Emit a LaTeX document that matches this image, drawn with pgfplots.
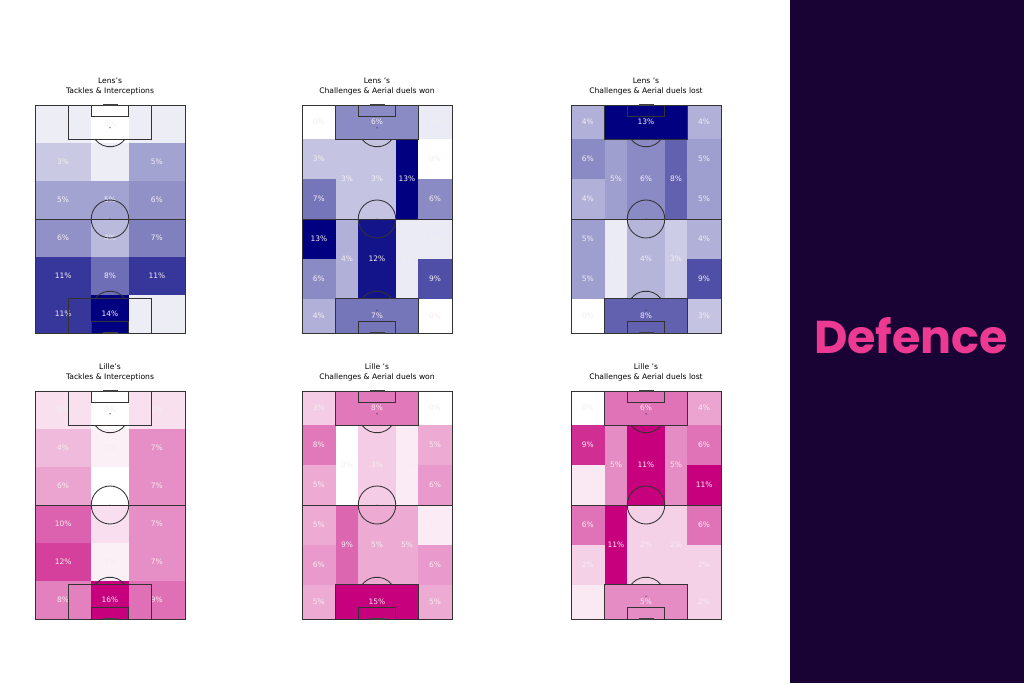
\documentclass[border=0pt]{standalone}
\usepackage{pgfplots}
\pgfplotsset{compat=1.18}
\usepackage{fontspec}
\setmainfont{DejaVu Sans}
\newfontfamily\poppins{Poppins}
\definecolor{lens}{RGB}{0,0,128}
\definecolor{lille}{RGB}{199,0,125}
\definecolor{labc}{RGB}{244,237,240}
\definecolor{darkbg}{RGB}{25,3,52}
\definecolor{defpink}{RGB}{236,58,146}
\newcommand{\cell}[7]{%
  \addplot[draw=none, fill=#1!#2!white, forget plot] coordinates {(#3,#4) (#5,#4) (#5,#6) (#3,#6)} -- cycle;
  \node[lbl] at (axis cs:{(#3+#5)/2},{(#4+#6)/2}) {#7\%};}
\newcommand{\pitch}{%
  \draw[pl] (axis cs:0,0) rectangle (axis cs:80,120);
  \draw[pl] (axis cs:0,60) -- (axis cs:80,60);
  \draw[pl] (axis cs:40,60) ellipse[x radius=18.75pt, y radius=19pt];
  \draw[pl] (axis cs:18,0) rectangle (axis cs:62,18);
  \draw[pl] (axis cs:30,0) rectangle (axis cs:50,6);
  \draw[pl] (axis cs:18,102) rectangle (axis cs:62,120);
  \draw[pl] (axis cs:30,114) rectangle (axis cs:50,120);
  \draw[pl] (axis cs:48,18) arc[start angle=36.87, end angle=143.13, x radius=18.75pt, y radius=19pt];
  \draw[pl] (axis cs:32,102) arc[start angle=216.87, end angle=323.13, x radius=18.75pt, y radius=19pt];
  \fill[black!80] (axis cs:40,12) circle[radius=0.7pt];
  \fill[black!80] (axis cs:40,108) circle[radius=0.7pt];
  \fill[black!80] (axis cs:40,60) circle[radius=0.5pt];
  \draw[black!75, line width=1.6pt] (axis cs:36,120) -- (axis cs:44,120);
  \draw[black!75, line width=1.6pt] (axis cs:36,0) -- (axis cs:44,0);
}
% positional grid: WL [0,18], HSL [18,30], C [30,50], HSR [50,62], WR [62,80]
\begin{document}
\begin{tikzpicture}[
  pl/.style={draw=black!80, line width=0.85pt},
  lbl/.style={font=\fontsize{7.5}{8}\selectfont, text=labc, inner sep=0pt}]
\useasboundingbox (0,0) rectangle (1024pt,683pt);
\fill[white] (0,0) rectangle (1024pt,683pt);
\fill[darkbg] (790pt,0) rectangle (1024pt,683pt);
\node[font=\poppins\bfseries\fontsize{46}{50}\selectfont, text=defpink] at (911pt,347pt) {Defence};
\pgfplotsset{pitchax/.style={scale only axis, width=150pt, height=228pt,
  xmin=0, xmax=80, ymin=0, ymax=120, hide axis, anchor=south west, clip=false,
  title style={font=\fontsize{7.6}{10.5}\selectfont, align=center, yshift=0pt}}}

% ---------- Lens tackles ----------
\begin{axis}[pitchax, at={(35pt,350pt)}, title={Lens's\\Tackles \& Interceptions}]
\cell{lens}{7}{0}{100}{30}{120}{1}
\cell{lens}{0}{30}{100}{50}{120}{0}
\cell{lens}{7}{50}{100}{80}{120}{1}
\cell{lens}{21}{0}{80}{30}{100}{3}
\cell{lens}{7}{30}{80}{50}{100}{1}
\cell{lens}{36}{50}{80}{80}{100}{5}
\cell{lens}{36}{0}{60}{30}{80}{5}
\cell{lens}{36}{30}{60}{50}{80}{5}
\cell{lens}{43}{50}{60}{80}{80}{6}
\cell{lens}{43}{0}{40}{30}{60}{6}
\cell{lens}{27}{30}{40}{50}{60}{4}
\cell{lens}{50}{50}{40}{80}{60}{7}
\cell{lens}{79}{0}{20}{30}{40}{11}
\cell{lens}{57}{30}{20}{50}{40}{8}
\cell{lens}{79}{50}{20}{80}{40}{11}
\cell{lens}{79}{0}{0}{30}{20}{11}
\cell{lens}{100}{30}{0}{50}{20}{14}
\cell{lens}{7}{50}{0}{80}{20}{1}
\pitch
\end{axis}

% ---------- Lens won ----------
\begin{axis}[pitchax, at={(302pt,350pt)}, title={Lens 's\\Challenges \& Aerial duels won}]
\cell{lens}{46}{18}{102}{62}{120}{6}
\cell{lens}{0}{0}{102}{18}{120}{0}
\cell{lens}{8}{62}{102}{80}{120}{1}
\cell{lens}{23}{0}{81}{18}{102}{3}
\cell{lens}{54}{0}{60}{18}{81}{7}
\cell{lens}{23}{18}{60}{30}{102}{3}
\cell{lens}{23}{30}{60}{50}{102}{3}
\cell{lens}{100}{50}{60}{62}{102}{13}
\cell{lens}{0}{62}{81}{80}{102}{0}
\cell{lens}{46}{62}{60}{80}{81}{6}
\cell{lens}{100}{0}{39}{18}{60}{13}
\cell{lens}{46}{0}{18}{18}{39}{6}
\cell{lens}{31}{0}{0}{18}{18}{4}
\cell{lens}{31}{18}{18}{30}{60}{4}
\cell{lens}{92}{30}{18}{50}{60}{12}
\cell{lens}{8}{50}{18}{62}{60}{1}
\cell{lens}{8}{62}{39}{80}{60}{1}
\cell{lens}{69}{62}{18}{80}{39}{9}
\cell{lens}{0}{62}{0}{80}{18}{0}
\cell{lens}{54}{18}{0}{62}{18}{7}
\pitch
\end{axis}

% ---------- Lens lost ----------
\begin{axis}[pitchax, at={(571pt,350pt)}, title={Lens 's\\Challenges \& Aerial duels lost}]
\cell{lens}{100}{18}{102}{62}{120}{13}
\cell{lens}{31}{0}{102}{18}{120}{4}
\cell{lens}{31}{62}{102}{80}{120}{4}
\cell{lens}{46}{0}{81}{18}{102}{6}
\cell{lens}{31}{0}{60}{18}{81}{4}
\cell{lens}{38}{18}{60}{30}{102}{5}
\cell{lens}{46}{30}{60}{50}{102}{6}
\cell{lens}{62}{50}{60}{62}{102}{8}
\cell{lens}{38}{62}{81}{80}{102}{5}
\cell{lens}{38}{62}{60}{80}{81}{5}
\cell{lens}{38}{0}{39}{18}{60}{5}
\cell{lens}{38}{0}{18}{18}{39}{5}
\cell{lens}{0}{0}{0}{18}{18}{0}
\cell{lens}{8}{18}{18}{30}{60}{1}
\cell{lens}{29}{30}{18}{50}{60}{4}
\cell{lens}{20}{50}{18}{62}{60}{3}
\cell{lens}{31}{62}{39}{80}{60}{4}
\cell{lens}{69}{62}{18}{80}{39}{9}
\cell{lens}{23}{62}{0}{80}{18}{3}
\cell{lens}{62}{18}{0}{62}{18}{8}
\pitch
\end{axis}

% ---------- Lille tackles ----------
\begin{axis}[pitchax, at={(35pt,64pt)}, title={Lille's\\Tackles \& Interceptions}]
\cell{lille}{12}{0}{100}{30}{120}{2}
\cell{lille}{0}{30}{100}{50}{120}{0}
\cell{lille}{12}{50}{100}{80}{120}{2}
\cell{lille}{27}{0}{80}{30}{100}{4}
\cell{lille}{6}{30}{80}{50}{100}{1}
\cell{lille}{44}{50}{80}{80}{100}{7}
\cell{lille}{36}{0}{60}{30}{80}{6}
\cell{lille}{0}{30}{60}{50}{80}{0}
\cell{lille}{44}{50}{60}{80}{80}{7}
\cell{lille}{62}{0}{40}{30}{60}{10}
\cell{lille}{13}{30}{40}{50}{60}{2}
\cell{lille}{44}{50}{40}{80}{60}{7}
\cell{lille}{75}{0}{20}{30}{40}{12}
\cell{lille}{6}{30}{20}{50}{40}{1}
\cell{lille}{44}{50}{20}{80}{40}{7}
\cell{lille}{50}{0}{0}{30}{20}{8}
\cell{lille}{100}{30}{0}{50}{20}{16}
\cell{lille}{56}{50}{0}{80}{20}{9}
\pitch
\end{axis}

% ---------- Lille won ----------
\begin{axis}[pitchax, at={(302pt,64pt)}, title={Lille 's\\Challenges \& Aerial duels won}]
\cell{lille}{53}{18}{102}{62}{120}{8}
\cell{lille}{20}{0}{102}{18}{120}{3}
\cell{lille}{0}{62}{102}{80}{120}{0}
\cell{lille}{53}{0}{81}{18}{102}{8}
\cell{lille}{33}{0}{60}{18}{81}{5}
\cell{lille}{0}{18}{60}{30}{102}{0}
\cell{lille}{20}{30}{60}{50}{102}{3}
\cell{lille}{8}{50}{60}{62}{102}{1}
\cell{lille}{33}{62}{81}{80}{102}{5}
\cell{lille}{40}{62}{60}{80}{81}{6}
\cell{lille}{33}{0}{39}{18}{60}{5}
\cell{lille}{40}{0}{18}{18}{39}{6}
\cell{lille}{33}{0}{0}{18}{18}{5}
\cell{lille}{60}{18}{18}{30}{60}{9}
\cell{lille}{33}{30}{18}{50}{60}{5}
\cell{lille}{33}{50}{18}{62}{60}{5}
\cell{lille}{8}{62}{39}{80}{60}{1}
\cell{lille}{40}{62}{18}{80}{39}{6}
\cell{lille}{33}{62}{0}{80}{18}{5}
\cell{lille}{100}{18}{0}{62}{18}{15}
\pitch
\end{axis}

% ---------- Lille lost ----------
\begin{axis}[pitchax, at={(571pt,64pt)}, title={Lille 's\\Challenges \& Aerial duels lost}]
\cell{lille}{55}{18}{102}{62}{120}{6}
\cell{lille}{0}{0}{102}{18}{120}{0}
\cell{lille}{36}{62}{102}{80}{120}{4}
\cell{lille}{82}{0}{81}{18}{102}{9}
\cell{lille}{9}{0}{60}{18}{81}{1}
\cell{lille}{45}{18}{60}{30}{102}{5}
\cell{lille}{100}{30}{60}{50}{102}{11}
\cell{lille}{45}{50}{60}{62}{102}{5}
\cell{lille}{55}{62}{81}{80}{102}{6}
\cell{lille}{100}{62}{60}{80}{81}{11}
\cell{lille}{55}{0}{39}{18}{60}{6}
\cell{lille}{18}{0}{18}{18}{39}{2}
\cell{lille}{9}{0}{0}{18}{18}{1}
\cell{lille}{100}{18}{18}{30}{60}{11}
\cell{lille}{18}{30}{18}{50}{60}{2}
\cell{lille}{18}{50}{18}{62}{60}{2}
\cell{lille}{55}{62}{39}{80}{60}{6}
\cell{lille}{18}{62}{18}{80}{39}{2}
\cell{lille}{18}{62}{0}{80}{18}{2}
\cell{lille}{45}{18}{0}{62}{18}{5}
\pitch
\end{axis}
\end{tikzpicture}
\end{document}
